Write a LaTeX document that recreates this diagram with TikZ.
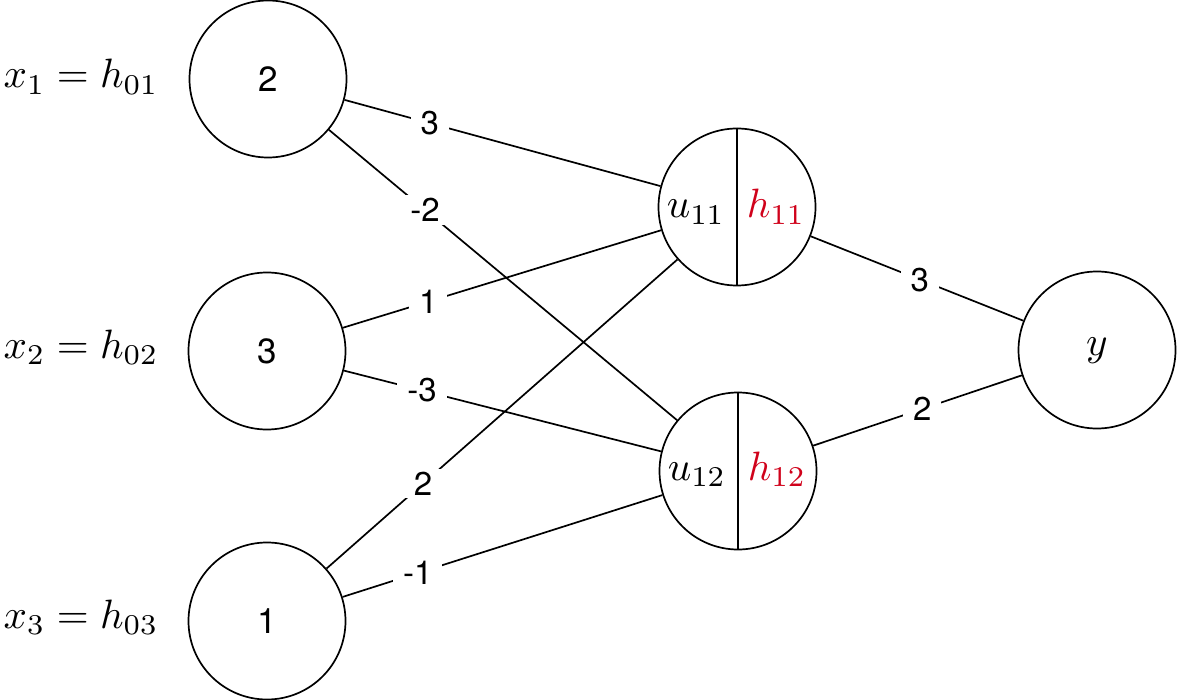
\documentclass[tikz,border=0pt]{standalone}
\usepackage{fontspec}
\setsansfont{TeX Gyre Heros}
\usetikzlibrary{calc}
\definecolor{hred}{RGB}{208,2,27}
\begin{document}
\begin{tikzpicture}[x=1pt,y=-1pt,
  neuron/.style={circle,draw,line width=1.7pt,minimum size=157pt,inner sep=0pt},
  numtxt/.style={font=\sffamily\fontsize{35}{40}\selectfont},
  wire/.style={line width=1.7pt},
  lbl/.style={fill=white,inner xsep=10pt,inner ysep=3pt,font=\sffamily\fontsize{33}{38}\selectfont},
  mtxt/.style={anchor=base,inner sep=0pt}
]
\useasboundingbox (0,0) rectangle (1177,700);

% input neurons
\node[neuron,numtxt] (x1) at (268,79) {2};
\node[neuron,numtxt] (x2) at (267,351) {3};
\node[neuron,numtxt] (x3) at (267,621) {1};

% hidden neurons
\node[neuron] (h11) at (737,207) {};
\node[neuron] (h12) at (738,471) {};
\draw[wire] (h11.north) -- (h11.south);
\draw[wire] (h12.north) -- (h12.south);
\node[mtxt] (u11t) at (696,218) {\scalebox{4.1}{$u_{11}$}};
\node[mtxt,text=hred] (h11t) at (776,218) {\scalebox{4.1}{$h_{11}$}};
\node[mtxt] (u12t) at (697,480) {\scalebox{4.1}{$u_{12}$}};
\node[mtxt,text=hred] (h12t) at (777,480) {\scalebox{4.1}{$h_{12}$}};

% output neuron
\node[neuron] (y) at (1097,350) {};
\node[mtxt] (yt) at (1097,355) {\scalebox{4.1}{$y$}};

% left labels
\node[mtxt] (lx1) at (81,88) {\scalebox{4.1}{$x_1 = h_{01}$}};
\node[mtxt] (lx2) at (81,358) {\scalebox{4.1}{$x_2 = h_{02}$}};
\node[mtxt] (lx3) at (81,628) {\scalebox{4.1}{$x_3 = h_{03}$}};

% connectors
\draw[wire] (x1) -- (h11);
\draw[wire] (x1) -- (h12);
\draw[wire] (x2) -- (h11);
\draw[wire] (x2) -- (h12);
\draw[wire] (x3) -- (h11);
\draw[wire] (x3) -- (h12);
\draw[wire] (h11) -- (y);
\draw[wire] (h12) -- (y);

% weights
\node[lbl] (w1) at ($(x1.center)!0.345!(h11.center)$) {3};
\node[lbl] (w2) at ($(x1.center)!0.334!(h12.center)$) {-2};
\node[lbl] (w3) at ($(x2.center)!0.343!(h11.center)$) {1};
\node[lbl] (w4) at ($(x2.center)!0.329!(h12.center)$) {-3};
\node[lbl] (w5) at ($(x3.center)!0.332!(h11.center)$) {2};
\node[lbl] (w6) at ($(x3.center)!0.320!(h12.center)$) {-1};
\node[lbl] (w7) at ($(h11.center)!0.508!(y.center)$) {3};
\node[lbl] (w8) at ($(h12.center)!0.513!(y.center)$) {2};
\end{tikzpicture}
\end{document}
